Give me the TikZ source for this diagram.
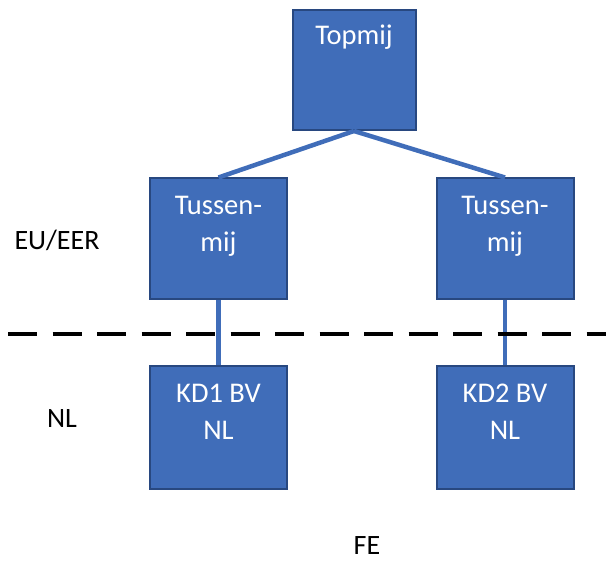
\documentclass[tikz,border=0pt]{standalone}
\usepackage{fontspec}
\setmainfont{Carlito}
\definecolor{boxfill}{RGB}{64,109,185}
\definecolor{boxedge}{RGB}{40,72,128}
\definecolor{linkblue}{RGB}{64,109,185}
\begin{document}
\begin{tikzpicture}[x=1pt,y=-1pt,
  orgbox/.style={draw=boxedge,line width=2pt,fill=boxfill,inner sep=0pt},
  boxtext/.style={text=white,anchor=base,font=\fontsize{28.5}{37}\selectfont,inner sep=0pt},
  sidetext/.style={text=black,anchor=base,font=\fontsize{28}{37}\selectfont,inner sep=0pt},
  link/.style={draw=linkblue,line width=4.5pt}]
\useasboundingbox (0,0) rectangle (606,561);
% boxes
\node[orgbox,minimum width=123pt,minimum height=120pt] (top) at (354,70) {};
\node[orgbox,minimum width=137pt,minimum height=121pt] (t1) at (218.5,239) {};
\node[orgbox,minimum width=137pt,minimum height=121pt] (t2) at (505,239) {};
\node[orgbox,minimum width=137pt,minimum height=123pt] (k1) at (218.5,428) {};
\node[orgbox,minimum width=137pt,minimum height=123pt] (k2) at (505,428) {};
% connectors
\draw[link] (top.south) -- (t1.north);
\draw[link] (top.south) -- (t2.north);
\draw[link] (t1.south) -- (k1.north);
\draw[link] (t2.south) -- (k2.north);
% texts
\node[boxtext] (toptxt) at (354,45) {Topmij};
\node[boxtext] (t1a) at (218.5,215) {Tussen-};
\node[boxtext] (t1b) at (218.5,252) {mij};
\node[boxtext] (t2a) at (505,215) {Tussen-};
\node[boxtext] (t2b) at (505,252) {mij};
\node[boxtext] (k1a) at (218.5,403) {KD1 BV};
\node[boxtext] (k1b) at (218.5,440) {NL};
\node[boxtext] (k2a) at (505,403) {KD2 BV};
\node[boxtext] (k2b) at (505,440) {NL};
% side labels
\node[sidetext] (eu) at (57,250) {EU/EER};
\node[sidetext] (nl) at (62,428) {NL};
\node[sidetext] (fe) at (367,555) {FE};
% border line
\coordinate (dl) at (8,334);
\coordinate (dr) at (606,334);
\draw[black,line width=4pt,dash pattern=on 29pt off 15.5pt] (dl) -- (dr);
\end{tikzpicture}
\end{document}
